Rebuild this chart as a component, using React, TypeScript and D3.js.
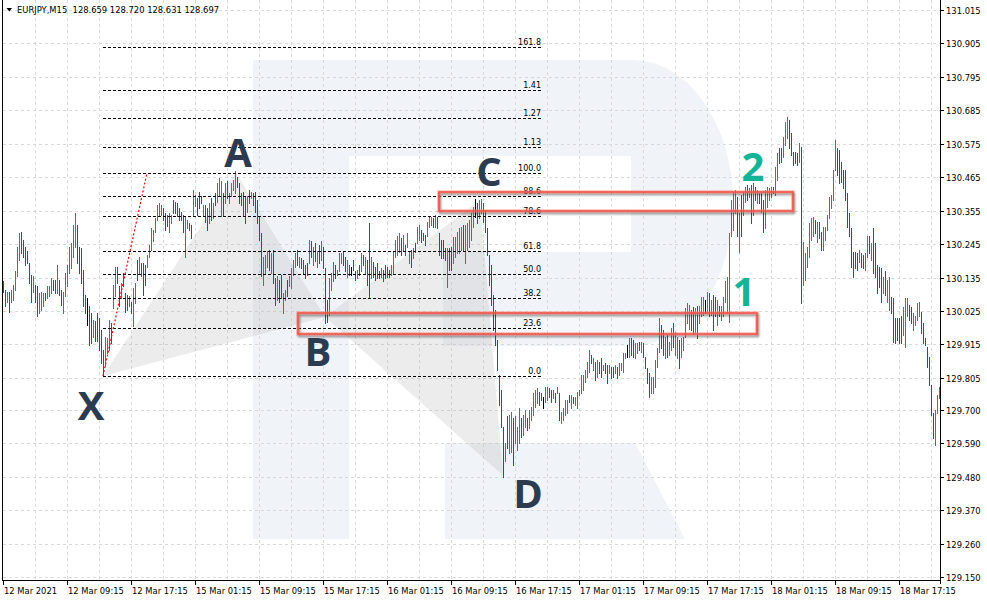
import React, { useEffect } from "react";
import * as d3 from "d3";

// ---------- DATA ----------
const highs: number[] = [
  130.122,130.095,130.089,130.089,130.095,130.111,130.155,130.237,130.281,130.286,
  130.259,130.237,130.221,130.182,130.144,130.139,130.111,130.106,130.084,130.089,
  130.084,130.084,130.106,130.106,130.133,130.128,130.128,130.177,130.128,130.095,
  130.089,130.149,130.177,130.237,130.248,130.308,130.347,130.308,130.237,130.232,
  130.160,130.078,130.067,130.040,130.018,129.996,129.991,130.018,130.002,129.963,
  129.897,129.941,129.936,129.996,129.985,130.111,130.171,130.171,130.106,130.117,
  130.149,130.084,130.078,130.073,130.056,130.100,130.117,130.193,130.204,130.182,
  130.182,130.177,130.210,130.243,130.297,130.292,130.330,130.374,130.380,130.374,
  130.363,130.347,130.341,130.347,130.341,130.391,130.385,130.380,130.363,130.352,
  130.341,130.336,130.325,130.314,130.308,130.423,130.407,130.396,130.418,130.402,
  130.374,130.374,130.363,130.380,130.396,130.380,130.413,130.445,130.462,130.451,
  130.413,130.445,130.451,130.413,130.445,130.456,130.484,130.467,130.445,130.413,
  130.418,130.402,130.402,130.423,130.418,130.413,130.418,130.391,130.336,130.281,
  130.204,130.210,130.221,130.226,130.215,130.226,130.133,130.139,130.128,130.144,
  130.084,130.095,130.128,130.139,130.166,130.193,130.215,130.226,130.204,130.199,
  130.193,130.177,130.182,130.259,130.254,130.237,130.248,130.221,130.243,130.254,
  130.237,130.165,130.061,130.133,130.149,130.187,130.176,130.160,130.215,130.215,
  130.220,130.204,130.193,130.176,130.171,130.193,130.155,130.160,130.176,130.215,
  130.209,130.204,130.193,130.313,130.204,130.187,130.171,130.182,130.155,130.166,
  130.160,130.176,130.171,130.160,130.176,130.220,130.259,130.270,130.281,130.264,
  130.275,130.242,130.281,130.220,130.226,130.231,130.248,130.302,130.308,130.291,
  130.281,130.275,130.319,130.335,130.335,130.330,130.341,130.335,130.280,130.258,
  130.258,130.231,130.231,130.231,130.236,130.269,130.269,130.286,130.297,130.302,
  130.308,130.308,130.313,130.324,130.346,130.368,130.392,130.379,130.390,130.392,
  130.381,130.357,130.298,130.209,130.176,130.078,130.028,129.929,129.814,129.765,
  129.643,129.590,129.678,129.683,129.694,129.672,129.678,129.645,129.705,129.672,
  129.683,129.699,129.672,129.699,129.710,129.754,129.765,129.771,129.760,129.754,
  129.743,129.776,129.776,129.771,129.765,129.765,129.754,129.776,129.754,129.694,
  129.705,129.732,129.732,129.749,129.749,129.743,129.743,129.760,129.765,129.815,
  129.815,129.831,129.858,129.897,129.880,129.869,129.858,129.864,129.858,129.869,
  129.847,129.853,129.847,129.847,129.842,129.842,129.847,129.842,129.853,129.853,
  129.886,129.886,129.913,129.935,129.935,129.930,129.919,129.919,129.924,129.924,
  129.919,129.875,129.836,129.820,129.809,129.809,129.864,129.902,130.001,129.979,
  129.962,129.941,129.946,129.924,129.968,129.984,129.957,129.941,129.930,129.935,
  129.941,130.035,130.050,130.045,130.029,130.037,130.035,130.040,130.040,130.072,
  130.072,130.061,130.089,130.083,130.061,130.078,130.072,130.061,130.040,130.040,
  130.072,130.122,130.138,130.280,130.390,130.418,130.423,130.401,130.346,130.407,
  130.418,130.434,130.440,130.429,130.440,130.445,130.434,130.423,130.412,130.412,
  130.390,130.423,130.434,130.429,130.434,130.434,130.500,130.544,130.560,130.560,
  130.598,130.648,130.664,130.653,130.609,130.549,130.549,130.544,130.577,130.566,
  130.253,130.215,130.237,130.313,130.330,130.335,130.324,130.319,130.319,130.286,
  130.302,130.302,130.341,130.401,130.407,130.489,130.587,130.560,130.555,130.516,
  130.489,130.489,130.412,130.346,130.297,130.220,130.220,130.215,130.226,130.215,
  130.209,130.215,130.270,130.270,130.248,130.297,130.248,130.176,130.171,130.165,
  130.138,130.155,130.127,130.138,130.072,130.067,130.001,130.001,130.001,130.007,
  130.039,130.067,130.067,130.045,130.039,130.018,130.007,130.050,130.056,130.023,
  129.985,129.935,129.908,129.875,129.782,129.689,129.699,129.750,129.775,
];

const lows: number[] = [
  130.089,130.040,130.056,130.023,130.056,130.062,130.095,130.139,130.193,130.215,
  130.204,130.177,130.182,130.117,130.056,130.089,130.056,130.007,130.018,130.029,
  130.040,130.062,130.067,130.073,130.084,130.095,130.084,130.084,130.078,130.045,
  130.018,130.073,130.106,130.149,130.166,130.204,130.237,130.182,130.149,130.117,
  130.040,130.018,129.980,129.914,129.919,129.941,129.925,129.925,129.897,129.854,
  129.812,129.843,129.886,129.897,129.919,130.034,130.073,130.117,130.040,130.067,
  130.106,130.023,130.029,130.040,130.018,129.974,130.051,130.128,130.149,130.139,
  130.078,130.111,130.171,130.204,130.226,130.254,130.286,130.325,130.336,130.341,
  130.325,130.292,130.303,130.286,130.314,130.347,130.347,130.336,130.325,130.325,
  130.286,130.204,130.297,130.292,130.265,130.336,130.369,130.341,130.363,130.380,
  130.336,130.319,130.292,130.314,130.325,130.330,130.374,130.385,130.402,130.336,
  130.336,130.380,130.396,130.380,130.402,130.423,130.413,130.434,130.380,130.374,
  130.336,130.314,130.352,130.380,130.396,130.374,130.352,130.314,130.259,130.139,
  130.111,130.149,130.171,130.160,130.149,130.117,130.045,130.062,130.056,130.067,
  130.018,130.062,130.073,130.106,130.100,130.144,130.171,130.177,130.171,130.166,
  130.149,130.133,130.144,130.182,130.204,130.177,130.188,130.171,130.182,130.193,
  130.166,129.985,129.990,130.012,130.094,130.122,130.133,130.144,130.155,130.182,
  130.176,130.155,130.138,130.144,130.144,130.160,130.127,130.133,130.144,130.155,
  130.176,130.149,130.111,130.067,130.133,130.138,130.127,130.133,130.133,130.138,
  130.122,130.133,130.138,130.138,130.144,130.149,130.204,130.209,130.220,130.209,
  130.226,130.209,130.237,130.182,130.171,130.198,130.220,130.248,130.259,130.253,
  130.259,130.242,130.270,130.302,130.308,130.302,130.302,130.297,130.209,130.198,
  130.198,130.193,130.105,130.160,130.160,130.182,130.204,130.215,130.215,130.226,
  130.226,130.182,130.226,130.236,130.258,130.302,130.335,130.313,130.330,130.346,
  130.319,130.285,130.209,130.110,130.045,129.962,129.913,129.831,129.716,129.643,
  129.479,129.530,129.573,129.557,129.562,129.519,129.590,129.568,129.590,129.612,
  129.617,129.645,129.634,129.639,129.667,129.683,129.710,129.721,129.716,129.732,
  129.705,129.727,129.732,129.743,129.727,129.738,129.727,129.754,129.667,129.656,
  129.667,129.683,129.688,129.727,129.705,129.721,129.716,129.705,129.749,129.754,
  129.765,129.793,129.809,129.825,129.853,129.831,129.798,129.809,129.820,129.809,
  129.831,129.820,129.787,129.820,129.804,129.809,129.820,129.804,129.815,129.831,
  129.825,129.869,129.875,129.875,129.880,129.875,129.869,129.886,129.897,129.891,
  129.875,129.836,129.787,129.743,129.754,129.754,129.776,129.842,129.891,129.902,
  129.880,129.869,129.875,129.880,129.897,129.908,129.880,129.869,129.836,129.875,
  129.897,129.941,129.984,129.965,129.963,129.950,129.955,129.935,129.985,130.007,
  130.012,130.018,130.018,130.007,130.012,129.963,130.007,129.979,130.007,129.996,
  130.007,130.056,130.018,129.990,130.270,130.292,130.346,130.270,130.220,130.270,
  130.341,130.385,130.390,130.401,130.313,130.341,130.390,130.379,130.379,130.352,
  130.286,130.297,130.368,130.390,130.401,130.412,130.407,130.456,130.511,130.516,
  130.533,130.571,130.593,130.560,130.538,130.505,130.511,130.505,130.516,130.050,
  130.111,130.127,130.171,130.204,130.259,130.270,130.281,130.253,130.264,130.226,
  130.226,130.259,130.292,130.330,130.363,130.390,130.489,130.472,130.445,130.450,
  130.429,130.390,130.302,130.270,130.171,130.138,130.165,130.160,130.187,130.171,
  130.165,130.160,130.204,130.215,130.193,130.149,130.138,130.083,130.105,130.056,
  130.083,130.078,130.056,130.028,130.018,129.924,129.919,129.930,129.919,129.919,
  129.946,129.908,130.007,129.996,129.985,129.963,129.979,129.996,130.007,129.952,
  129.919,129.913,129.842,129.782,129.683,129.607,129.585,129.690,129.740,
];

// u = up bar (green), d = down bar (red), n = unchanged (black)
const directions =
  "dduduuuuud" + "dddddudduu" + "uduuuddudd" + "uuuuuuuddd" + "ddnddudddd" +
  "duuuduuddu" + "ddduduudud" + "dduuuuuuuu" + "ddduuddddd" + "duudduuddd" +
  "uddududuuu" + "duduuuuddd" + "ddududdddd" + "uuududdudd" + "uuduuuudud" +
  "dddudududu" + "ddduuuduuu" + "ddudnddudu" + "dudduddddu" + "dddduuuuud" +
  "uduududuud" + "dduuududdd" + "ddudduuuuu" + "duuuuunduu" + "dddddddddd" +
  "duduuduuud" + "uuduuuuudd" + "nuuddududu" + "uuududuuuu" + "uuuudududd" +
  "uddudduduu" + "uunudduudu" + "dddduuuuud" + "duduuduudu" + "uuuudduduu" +
  "unududdudu" + "uuuuuuudud" + "uududududd" + "duuuuduudd" + "uuudddddud" +
  "uuuuuududd" + "uuuuuuuddd" + "ddddddddud" + "duududdddd" + "uduudddddd" +
  "uuudduuuud" + "dddddduuu";

const priceTicks = [131.015, 130.905, 130.795, 130.685, 130.575, 130.465, 130.355, 130.245,
  130.135, 130.025, 129.915, 129.805, 129.700, 129.590, 129.480, 129.370, 129.260, 129.150];

const timeLabels = ["12 Mar 2021", "12 Mar 09:15", "12 Mar 17:15", "15 Mar 01:15", "15 Mar 09:15",
  "15 Mar 17:15", "16 Mar 01:15", "16 Mar 09:15", "16 Mar 17:15", "17 Mar 01:15", "17 Mar 09:15",
  "17 Mar 17:15", "18 Mar 01:15", "18 Mar 09:15", "18 Mar 17:15"];
const barsPerLabel = 32;
const barsPerGrid = 16;

const headerText = "EURJPY,M15  128.659 128.720 128.631 128.697";

// Fibonacci retracement anchored from X to the A level
const fibStart = { i: 50, p: 129.811 };
const fibEnd = { i: 72, p: 130.479 };
const fibRightIndex = 269.5;
const fibRatios = [0, 0.236, 0.382, 0.5, 0.618, 0.786, 0.886, 1, 1.13, 1.27, 1.41, 1.618];
const fibLabels = ["0.0", "23.6", "38.2", "50.0", "61.8", "78.6", "88.6", "100.0", "1.13", "1.27", "1.41", "161.8"];

// Harmonic pattern points (bar index, price)
const pX = { i: 50, p: 129.811 };
const pA = { i: 116.5, p: 130.480 };
const pB = { i: 161, p: 130.005 };
const pC = { i: 238.5, p: 130.390 };
const pD = { i: 250, p: 129.484 };

const letterLabels = [
  { t: "X", i: 44, p: 129.666 },
  { t: "A", i: 117.5, p: 130.499 },
  { t: "B", i: 157.5, p: 129.844 },
  { t: "C", i: 243, p: 130.436 },
  { t: "D", i: 262.5, p: 129.377 },
];
const numberLabels = [
  { t: "1", i: 370.5, p: 130.041 },
  { t: "2", i: 375, p: 130.453 },
];

// Highlight zones (bar index range, price range, interior wash)
const zones = [
  { i0: 218, i1: 395, pTop: 130.416, pBot: 130.354, wash: 0.9 },
  { i0: 147.5, i1: 377, pTop: 130.018, pBot: 129.949, wash: 0.35 },
];

// ---------- STYLE ----------
const W = 987, H = 602;
const PL = 3, PR = 940, PB = 580;
const axisFont = "'DejaVu Sans', Verdana, sans-serif";
const GREEN = "#2e8b57", RED = "#f00000", BLACK = "#000";

export default function App() {
  useEffect(() => { document.body.style.margin = "0"; }, []);

  const n = Math.min(highs.length, lows.length, directions.length);
  const x = d3.scaleLinear().domain([0, 468.5]).range([PL, PR]);
  const y = d3.scaleLinear().domain([129.15, 131.015]).range([577, 10]);
  const px = (i: number) => x(i);
  const py = (p: number) => y(p);

  const gridXs: number[] = [];
  for (let k = 1; x(k * barsPerGrid) < PR - 1; k++) gridXs.push(Math.round(x(k * barsPerGrid)) + 0.5);

  const fibRange = fibEnd.p - fibStart.p;
  const fibX0 = px(fibStart.i), fibX1 = px(fibRightIndex);

  const tri = (a: any, b: any, c: any) =>
    `M${px(a.i)},${py(a.p)}L${px(b.i)},${py(b.p)}L${px(c.i)},${py(c.p)}Z`;

  const zoneBox = (z: any) => {
    const x0 = Math.round(px(z.i0)), x1 = Math.round(px(z.i1));
    const y0 = Math.round(py(z.pTop)), y1 = Math.round(py(z.pBot));
    return { x0, y0, w: x1 - x0, h: y1 - y0 };
  };

  return (
    <svg width={W} height={H} viewBox={`0 0 ${W} ${H}`} style={{ position: "absolute", left: 0, top: 0, display: "block" }}>
      <defs>
        <filter id="zs" x="-5%" y="-50%" width="110%" height="200%">
          <feGaussianBlur stdDeviation="1.2" />
        </filter>
      </defs>
      <rect width={W} height={H} fill="#fff" />

      {/* watermark */}
      <g fill="#f0f3f8">
        <path d="M253,60 H633 A100,143 0 0 1 633,346 H443 V252 H631 V156 H349 V539 H253 Z" />
        <path d="M445,443 H635 L685,539 H445 Z" />
      </g>

      {/* zone interiors */}
      {zones.map((z, k) => {
        const b = zoneBox(z);
        return <rect key={"zf" + k} x={b.x0} y={b.y0} width={b.w} height={b.h} fill="#fff" opacity={z.wash} />;
      })}

      {/* grid */}
      <g stroke="#d9d9d9" strokeWidth={1} strokeDasharray="3,3" shapeRendering="crispEdges">
        {gridXs.map((gx, k) => <line key={"gx" + k} x1={gx} x2={gx} y1={0} y2={PB} />)}
        {priceTicks.map((v, k) => {
          const yy = Math.round(py(v)) + 0.5;
          return <line key={"gy" + k} x1={PL} x2={PR} y1={yy} y2={yy} />;
        })}
      </g>

      {/* pattern triangles */}
      <g fill="rgba(185,185,185,0.28)">
        <path d={tri(pX, pA, pB)} />
        <path d={tri(pB, pC, pD)} />
      </g>

      {/* bars */}
      <g shapeRendering="crispEdges" strokeWidth={1}>
        {d3.range(n).map((i) => {
          const xx = Math.round(px(i)) + 0.5;
          const y1 = Math.round(py(highs[i]));
          const y2 = Math.round(py(lows[i]));
          const c = directions[i] === "u" ? GREEN : directions[i] === "d" ? RED : BLACK;
          return <line key={i} x1={xx} x2={xx} y1={y1} y2={Math.max(y2, y1 + 1) + 1} stroke={c} />;
        })}
      </g>

      {/* fibonacci */}
      <g>
        {fibRatios.map((r, k) => {
          const yy = Math.round(py(fibStart.p + r * fibRange)) + 0.5;
          return (
            <g key={"f" + k}>
              <line x1={fibX0} x2={fibX1} y1={yy} y2={yy} stroke="#000" strokeDasharray="3,2" shapeRendering="crispEdges" />
              <text x={fibX1 - 1} y={yy - 3} textAnchor="end" fontFamily={axisFont} fontSize={8} fill="#000">{fibLabels[k]}</text>
            </g>
          );
        })}
        <line x1={px(fibStart.i)} y1={py(fibStart.p)} x2={px(fibEnd.i)} y2={py(fibEnd.p)}
          stroke="#ff0000" strokeWidth={1.2} strokeDasharray="2,2" />
      </g>

      {/* zones outlines */}
      {zones.map((z, k) => {
        const b = zoneBox(z);
        return (
          <g key={"z" + k} fill="none">
            <rect x={b.x0 + 1} y={b.y0 + 2} width={b.w} height={b.h} stroke="rgba(40,40,40,0.55)" strokeWidth={2.2} filter="url(#zs)" />
            <rect x={b.x0} y={b.y0} width={b.w} height={b.h} stroke="rgba(255,130,120,0.55)" strokeWidth={3.5} />
            <rect x={b.x0} y={b.y0} width={b.w} height={b.h} stroke="#ef4a3e" strokeWidth={1.4} />
          </g>
        );
      })}

      {/* letters */}
      <g fontFamily="'Open Sans', 'DejaVu Sans', sans-serif" fontWeight={700} fontSize={40} textAnchor="middle">
        {letterLabels.map((l) => (
          <text key={l.t} x={px(l.i)} y={py(l.p)} fill="#2d3b51">{l.t}</text>
        ))}
        {numberLabels.map((l) => (
          <text key={l.t} x={px(l.i)} y={py(l.p)} fill="#14b498">{l.t}</text>
        ))}
      </g>

      {/* frame & axes */}
      <g stroke="#000" strokeWidth={1} shapeRendering="crispEdges">
        <line x1={2.5} x2={2.5} y1={0} y2={PB} />
        <line x1={PR + 0.5} x2={PR + 0.5} y1={0} y2={PB + 4} />
        <line x1={2} x2={PR + 1} y1={PB + 0.5} y2={PB + 0.5} />
        {priceTicks.map((v, k) => {
          const yy = Math.round(py(v)) + 0.5;
          return <line key={"yt" + k} x1={PR} x2={PR + 4} y1={yy} y2={yy} />;
        })}
        {timeLabels.map((t, k) => {
          const xx = Math.round(px(k * barsPerLabel)) + 0.5;
          return <line key={"xt" + k} x1={xx} x2={xx} y1={PB} y2={PB + 5} />;
        })}
      </g>
      <g fontFamily={axisFont} fontSize={8.4} fill="#000">
        {priceTicks.map((v, k) => (
          <text key={"yl" + k} x={PR + 6} y={Math.round(py(v)) + 3.5}>{v.toFixed(3)}</text>
        ))}
        {timeLabels.map((t, k) => (
          <text key={"xl" + k} x={Math.round(px(k * barsPerLabel)) + 1} y={594}>{t}</text>
        ))}
      </g>

      {/* header */}
      <path d="M6.5,8 L12,8 L9.25,11.5 Z" fill="#000" />
      <text x={17} y={13} fontFamily={axisFont} fontSize={8.4} fill="#000" style={{ whiteSpace: "pre" }}>{headerText}</text>
    </svg>
  );
}
